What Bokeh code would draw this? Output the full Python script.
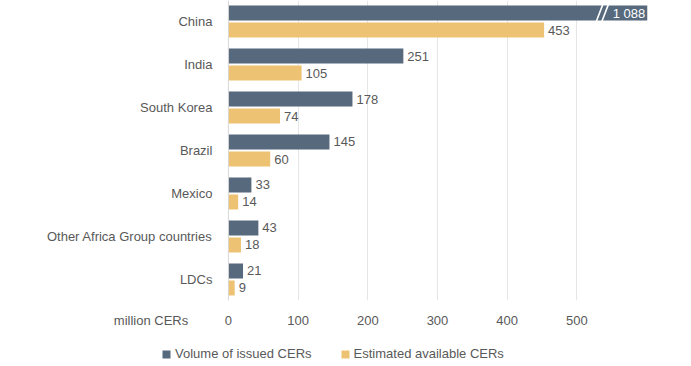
from bokeh.plotting import figure
from bokeh.layouts import column
from bokeh.models import ColumnDataSource, Range1d, FixedTicker, Legend, LegendItem, Span
from bokeh.core.properties import value
from bokeh.embed import file_html
from bokeh.resources import INLINE

# ---- data ----
countries = ["China", "India", "South Korea", "Brazil", "Mexico",
             "Other Africa Group countries", "LDCs"]
issued = [1088, 251, 178, 145, 33, 43, 21]
available = [453, 105, 74, 60, 14, 18, 9]
x_ticks = [0, 100, 200, 300, 400, 500]
unit_label = "million CERs"
legend_labels = ["Volume of issued CERs", "Estimated available CERs"]

# ---- style / layout ----
BREAK_AT = 601          # axis value at which very long bars are cut
X_START, X_END = -327, 620
UNIT_LABEL_AT = -111    # axis position of the unit caption
ISSUED_COLOR = "#56697D"
AVAIL_COLOR = "#EDC373"
TEXT_COLOR = "#595959"
GRID_COLOR = "#E6E6E6"
FONT = "Liberation Sans"
OFF = 0.198
BAR_H = 0.35

n = len(countries)
pos = [n - 1 - i for i in range(n)]
issued_shown = [min(v, BREAK_AT) for v in issued]


def fmt(v):
    return f"{v:,}".replace(",", " ")


p = figure(output_backend="svg", toolbar_location=None,
           frame_width=660, frame_height=300,
           min_border_left=0, min_border_right=31,
           min_border_top=0, min_border_bottom=30,
           x_range=Range1d(X_START, X_END), y_range=Range1d(-0.49, 6.49))
p.outline_line_color = None
p.background_fill_color = "white"

p.xgrid.ticker = FixedTicker(ticks=x_ticks)
p.xgrid.grid_line_color = GRID_COLOR
p.ygrid.grid_line_color = None
p.add_layout(Span(location=0, dimension="height", line_color="#D9D9D9", line_width=1))

src_i = ColumnDataSource(dict(y=[q + OFF for q in pos], right=issued_shown))
src_a = ColumnDataSource(dict(y=[q - OFF for q in pos], right=available))
p.hbar(y="y", left=0, right="right", height=BAR_H, source=src_i,
       fill_color=ISSUED_COLOR, line_color=None)
p.hbar(y="y", left=0, right="right", height=BAR_H, source=src_a,
       fill_color=AVAIL_COLOR, line_color=None)

# category labels
p.text(x=0, y=pos, text=countries, x_offset=-16,
       text_font=value(FONT), text_font_size="13px", text_color=TEXT_COLOR,
       text_baseline="middle", text_align="right")

# value labels
norm_x, norm_y, norm_t = [], [], []
brk_x, brk_y, brk_t = [], [], []
for q, v, s in zip(pos, issued, issued_shown):
    if v > BREAK_AT:
        brk_x.append(s); brk_y.append(q + OFF); brk_t.append(fmt(v))
    else:
        norm_x.append(v); norm_y.append(q + OFF); norm_t.append(fmt(v))
for q, v in zip(pos, available):
    norm_x.append(v); norm_y.append(q - OFF); norm_t.append(fmt(v))

p.text(x="x", y="y", text="t",
       source=ColumnDataSource(dict(x=norm_x, y=norm_y, t=norm_t)),
       text_font=value(FONT), text_font_size="13px", text_color=TEXT_COLOR,
       text_baseline="middle", text_align="left", x_offset=4)
p.text(x="x", y="y", text="t",
       source=ColumnDataSource(dict(x=brk_x, y=brk_y, t=brk_t)),
       text_font=value(FONT), text_font_size="13px", text_color="white",
       text_baseline="middle", text_align="right", x_offset=-2)

# break marks "//"
sx0, sy0, sx1, sy1 = [], [], [], []
for x, y in zip(brk_x, brk_y):
    for back in (73, 65):
        sx0.append(x - back); sy0.append(y - 0.19)
        sx1.append(x - back + 9); sy1.append(y + 0.19)
p.segment(x0=sx0, y0=sy0, x1=sx1, y1=sy1, line_color="white", line_width=1.6)

# axes
p.xaxis.ticker = FixedTicker(ticks=[UNIT_LABEL_AT] + x_ticks)
p.xaxis.major_label_overrides = {UNIT_LABEL_AT: unit_label}
p.xaxis.axis_line_color = None
p.xaxis.major_tick_line_color = None
p.xaxis.minor_tick_line_color = None
p.xaxis.major_label_standoff = 6
p.xaxis.major_label_text_font = FONT
p.xaxis.major_label_text_font_size = "13px"
p.xaxis.major_label_text_color = TEXT_COLOR
p.yaxis.visible = False

# ---- legend strip below the chart (same series, viewed off-range) ----
leg = figure(output_backend="svg", toolbar_location=None,
             frame_width=691, frame_height=36, min_border=0,
             x_range=Range1d(0, 1), y_range=Range1d(100, 101))
leg.outline_line_color = None
leg.axis.visible = False
leg.grid.visible = False
g_i = leg.hbar(y="y", left=0, right="right", height=BAR_H, source=src_i,
               fill_color=ISSUED_COLOR, line_color=None)
g_a = leg.hbar(y="y", left=0, right="right", height=BAR_H, source=src_a,
               fill_color=AVAIL_COLOR, line_color=None)
legend = Legend(items=[LegendItem(label=legend_labels[0], renderers=[g_i]),
                       LegendItem(label=legend_labels[1], renderers=[g_a])],
                orientation="horizontal", location=(161, 5),
                glyph_width=10, glyph_height=10, label_height=14,
                label_standoff=4, spacing=28, padding=0, margin=0,
                border_line_color=None, background_fill_alpha=0,
                label_text_font=FONT, label_text_font_size="13px",
                label_text_color=TEXT_COLOR)
leg.add_layout(legend)

open("out.html", "w").write(file_html(column(p, leg, spacing=0), INLINE))
